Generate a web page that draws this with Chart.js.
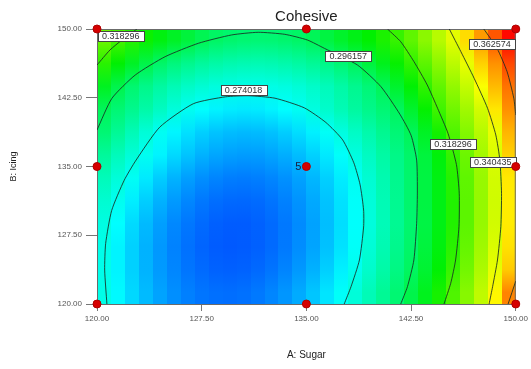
<!DOCTYPE html>
<html>
<head>
<meta charset="utf-8">
<script src="https://cdn.jsdelivr.net/npm/chart.js@4.4.1/dist/chart.umd.min.js"></script>
<style>
  html, body { margin: 0; padding: 0; background: #fff; }
</style>
</head>
<body>
<canvas id="contour" width="531" height="369"></canvas>
<script>
// cell centres of the response grid (A: Sugar across, B: Icing up)
var sugar = [120.5, 121.5, 122.5, 123.5, 124.5, 125.5, 126.5, 127.5, 128.5, 129.5,
  130.5, 131.5, 132.5, 133.5, 134.5, 135.5, 136.5, 137.5, 138.5, 139.5,
  140.5, 141.5, 142.5, 143.5, 144.5, 145.5, 146.5, 147.5, 148.5, 149.5];
var icing = [121.25, 123.75, 126.25, 128.75, 131.25, 133.75, 136.25, 138.75, 141.25, 143.75, 146.25, 148.75];

// Cohesive, one row per icing value (bottom to top)
var cohesive = [
  [.2747,.2704,.2666,.2633,.2605,.2583,.2565,.2553,.2547,.2545,.2549,.2558,.2572,.2591,.2615,.2645,.2680,.2720,.2770,.2823,.2877,.2931,.2992,.3065,.3137,.3209,.3280,.3350,.3440,.3589],
  [.2742,.2697,.2658,.2624,.2595,.2572,.2553,.2540,.2532,.2529,.2531,.2539,.2552,.2570,.2593,.2621,.2655,.2693,.2737,.2792,.2848,.2904,.2960,.3032,.3106,.3179,.3253,.3326,.3400,.3498],
  [.2744,.2698,.2658,.2623,.2593,.2568,.2549,.2534,.2525,.2521,.2523,.2529,.2541,.2558,.2580,.2607,.2640,.2677,.2720,.2774,.2831,.2889,.2946,.3015,.3088,.3162,.3235,.3309,.3383,.3468],
  [.2756,.2710,.2668,.2632,.2601,.2575,.2555,.2540,.2529,.2525,.2525,.2530,.2541,.2557,.2578,.2604,.2636,.2672,.2714,.2764,.2822,.2879,.2937,.3004,.3078,.3151,.3225,.3298,.3372,.3454],
  [.2782,.2734,.2691,.2654,.2622,.2595,.2573,.2557,.2545,.2539,.2538,.2542,.2552,.2567,.2587,.2612,.2642,.2677,.2718,.2769,.2826,.2883,.2940,.3007,.3079,.3152,.3225,.3297,.3370,.3453],
  [.2818,.2769,.2725,.2686,.2653,.2624,.2601,.2583,.2571,.2563,.2561,.2564,.2572,.2585,.2604,.2628,.2656,.2690,.2730,.2781,.2834,.2888,.2941,.3007,.3082,.3156,.3229,.3301,.3374,.3459],
  [.2867,.2817,.2772,.2732,.2697,.2667,.2643,.2623,.2609,.2601,.2597,.2599,.2606,.2618,.2635,.2658,.2685,.2718,.2759,.2806,.2852,.2899,.2945,.3014,.3094,.3175,.3245,.3314,.3383,.3490],
  [.2929,.2877,.2825,.2773,.2729,.2700,.2676,.2657,.2643,.2635,.2632,.2634,.2641,.2654,.2672,.2694,.2722,.2759,.2801,.2842,.2884,.2926,.2972,.3053,.3134,.3209,.3274,.3339,.3403,.3526],
  [.2971,.2929,.2889,.2848,.2807,.2766,.2732,.2712,.2698,.2689,.2686,.2688,.2697,.2710,.2729,.2758,.2792,.2826,.2860,.2895,.2929,.2964,.3039,.3115,.3189,.3250,.3312,.3373,.3461,.3575],
  [.3060,.2993,.2936,.2895,.2858,.2826,.2800,.2779,.2763,.2752,.2746,.2745,.2750,.2759,.2774,.2794,.2819,.2849,.2885,.2925,.2974,.3040,.3105,.3170,.3232,.3294,.3356,.3425,.3519,.3613],
  [.3161,.3107,.3052,.2997,.2949,.2916,.2889,.2866,.2849,.2837,.2831,.2829,.2833,.2841,.2856,.2875,.2899,.2929,.2966,.3016,.3067,.3118,.3169,.3226,.3285,.3345,.3404,.3489,.3573,.3668],
  [.3246,.3196,.3157,.3122,.3087,.3052,.3017,.2982,.2954,.2941,.2932,.2929,.2931,.2939,.2951,.2974,.3008,.3042,.3076,.3110,.3144,.3178,.3229,.3285,.3340,.3395,.3475,.3560,.3649,.3749]
];

// contour lines
var c274 = [[120.71,120],[120.55,123.7],[120.62,126.6],[121.05,130.2],[121.95,133.5],[122.8,135.7],[124.5,139.3],[126.9,141.85],[129.2,142.6],[130.85,142.72],[132.75,142.45],[134.85,141.4],[136.4,139.8],[137.6,137.9],[138.4,135.4],[138.85,133.0],[139.1,130.25],[139.1,128.4],[138.8,124.8],[138.2,121.9],[137.71,120]];
var c296 = [[120,138.98],[121.07,142.44],[122.74,144.98],[124.88,146.98],[127.26,148.44],[129.64,149.35],[131.55,149.64],[133.45,149.42],[135.07,148.8],[136.29,147.89],[138.66,146.07],[140.34,143.71],[141.7,140.7],[142.5,138.4],[142.9,135.7],[142.95,132.1],[142.9,128.8],[142.7,124.8],[142.24,121.89],[141.76,120]];
var c318a = [[120,146.07],[120.93,147.71],[121.79,148.8],[122.86,150]];
var c318b = [[140.81,150],[141.76,148.61],[142.71,146.43],[143.66,143.89],[144.4,141.35],[145.15,138.6],[145.75,135.2],[145.95,132.08],[145.93,128.43],[145.69,124.8],[145.34,122.26],[144.86,120]];
var c340 = [[145.24,150],[146.07,147.52],[147.02,144.62],[147.98,141.35],[148.57,138.44],[148.86,135.71],[148.98,132.08],[148.93,128.43],[148.69,124.8],[148.34,121.89],[148.09,120]];
var c363a = [[147.71,150],[148.66,147.89],[149.38,145.34],[149.86,142.44],[150,140.62]];
var c363b = [[149.45,120],[150,122.5]];

var contourTexts = ["0.318296", "0.296157", "0.274018", "0.362574", "0.318296", "0.340435"];
var contourTextX = [121.7, 138.0, 130.5, 148.3, 145.5, 148.35];
var contourTextY = [149.2, 147.05, 143.35, 148.4, 137.4, 135.5];

// design points
var designSugar = [120, 120, 120, 135, 135, 135, 150, 150, 150];
var designIcing = [120, 135, 150, 120, 135, 150, 120, 135, 150];

var ticks = [120, 127.5, 135, 142.5, 150];

// blue -> cyan -> green -> yellow -> red
var colorStops = [
  [0.242, [0, 0, 255]],
  [0.271, [0, 255, 255]],
  [0.311, [0, 240, 0]],
  [0.343, [255, 255, 0]],
  [0.376, [255, 0, 0]]
];

function rainbow(v) {
  if (v <= colorStops[0][0]) v = colorStops[0][0];
  if (v >= colorStops[4][0]) v = colorStops[4][0];
  var i = 0;
  while (i < 3 && v > colorStops[i + 1][0]) i++;
  var a = colorStops[i], b = colorStops[i + 1];
  var f = (v - a[0]) / (b[0] - a[0]);
  return "rgb(" + Math.round(a[1][0] + (b[1][0] - a[1][0]) * f) + "," +
    Math.round(a[1][1] + (b[1][1] - a[1][1]) * f) + "," +
    Math.round(a[1][2] + (b[1][2] - a[1][2]) * f) + ")";
}

function pts(list) {
  return list.map(function (p) { return { x: p[0], y: p[1] }; });
}

var heatmap = {
  id: "heatmap",
  beforeDatasetsDraw: function (chart) {
    var ctx = chart.ctx, xs = chart.scales.x, ys = chart.scales.y, area = chart.chartArea;
    var dx = (sugar[1] - sugar[0]) / 2;
    var span = area.bottom - area.top;
    ctx.save();
    sugar.forEach(function (xv, c) {
      var l = Math.round(xs.getPixelForValue(xv - dx)), rr = Math.round(xs.getPixelForValue(xv + dx));
      var g = ctx.createLinearGradient(0, area.bottom, 0, area.top);
      icing.forEach(function (yv, r) {
        var py = ys.getPixelForValue(yv);
        g.addColorStop((area.bottom - py) / span, rainbow(cohesive[r][c]));
      });
      ctx.fillStyle = g;
      ctx.fillRect(l, area.top, rr - l, span);
    });
    ctx.strokeStyle = "#6b6b6b";
    ctx.lineWidth = 1;
    ctx.strokeRect(area.left + 0.5, area.top + 0.5, area.right - area.left - 1, span);
    // title over the plot
    ctx.fillStyle = "#222";
    ctx.font = "15px 'Liberation Sans', Arial, sans-serif";
    ctx.textAlign = "center";
    ctx.textBaseline = "middle";
    ctx.fillText("Cohesive", (area.left + area.right) / 2, 17);
    ctx.restore();
  },
  afterDatasetDraw: function (chart, args) {
    if (args.index !== 1) return;
    var ctx = chart.ctx, xs = chart.scales.x, ys = chart.scales.y;
    ctx.save();
    ctx.font = "9px 'Liberation Sans', Arial, sans-serif";
    ctx.textAlign = "center";
    ctx.textBaseline = "middle";
    contourTexts.forEach(function (txt, i) {
      var px = xs.getPixelForValue(contourTextX[i]), py = ys.getPixelForValue(contourTextY[i]);
      var w = ctx.measureText(txt).width + 8, h = 10;
      ctx.fillStyle = "#fff";
      ctx.fillRect(Math.round(px - w / 2) + 0.5, Math.round(py - h / 2) + 0.5, Math.round(w), h);
      ctx.strokeStyle = "#444";
      ctx.lineWidth = 1;
      ctx.strokeRect(Math.round(px - w / 2) + 0.5, Math.round(py - h / 2) + 0.5, Math.round(w), h);
      ctx.fillStyle = "#333";
      ctx.fillText(txt, px, py + 0.5);
    });
    ctx.font = "11px 'Liberation Sans', Arial, sans-serif";
    ctx.fillStyle = "#1a1a3a";
    ctx.textAlign = "right";
    ctx.fillText("5", xs.getPixelForValue(135) - 5, ys.getPixelForValue(135));
    ctx.restore();
  }
};

function lineSet(list) {
  return {
    data: pts(list),
    showLine: true,
    borderColor: "rgba(25,45,35,0.85)",
    borderWidth: 1,
    pointRadius: 0,
    tension: 0.2,
    fill: false
  };
}

var tickFont = { family: "'Liberation Sans', Arial, sans-serif", size: 8 };

new Chart(document.getElementById("contour").getContext("2d"), {
  type: "scatter",
  data: {
    datasets: [
      {
        data: designSugar.map(function (x, i) { return { x: x, y: designIcing[i] }; }),
        pointRadius: 4,
        pointBackgroundColor: "#d60000",
        pointBorderColor: "#b00000",
        pointBorderWidth: 1,
        clip: false
      },
      lineSet(c274), lineSet(c296), lineSet(c318a), lineSet(c318b),
      lineSet(c340), lineSet(c363a), lineSet(c363b)
    ]
  },
  options: {
    responsive: false,
    animation: false,
    events: [],
    layout: { padding: { left: 0, right: 14, top: 29, bottom: 0 } },
    plugins: {
      legend: { display: false },
      tooltip: { enabled: false }
    },
    scales: {
      x: {
        type: "linear",
        min: 120,
        max: 150,
        afterBuildTicks: function (s) { s.ticks = ticks.map(function (v) { return { value: v }; }); },
        afterFit: function (s) { s.height = 65; },
        ticks: {
          color: "#555",
          font: tickFont,
          padding: 3,
          maxRotation: 0,
          callback: function (v) { return Number(v).toFixed(2); }
        },
        grid: { drawOnChartArea: false, drawTicks: true, tickLength: 7, color: "#777" },
        border: { display: false },
        title: {
          display: true,
          text: "A: Sugar",
          color: "#222",
          font: { family: "'Liberation Sans', Arial, sans-serif", size: 10 },
          padding: { top: 0, bottom: 8 }
        }
      },
      y: {
        type: "linear",
        min: 120,
        max: 150,
        afterBuildTicks: function (s) { s.ticks = ticks.map(function (v) { return { value: v }; }); },
        afterFit: function (s) { s.width = 97; },
        ticks: {
          color: "#555",
          font: tickFont,
          padding: 4,
          callback: function (v) { return Number(v).toFixed(2); }
        },
        grid: { drawOnChartArea: false, drawTicks: true, tickLength: 11, color: "#777" },
        border: { display: false },
        title: {
          display: true,
          text: "B: Icing",
          color: "#222",
          font: { family: "'Liberation Sans', Arial, sans-serif", size: 9 },
          padding: { top: 8, bottom: 0 }
        }
      }
    }
  },
  plugins: [heatmap]
});
</script>
</body>
</html>
